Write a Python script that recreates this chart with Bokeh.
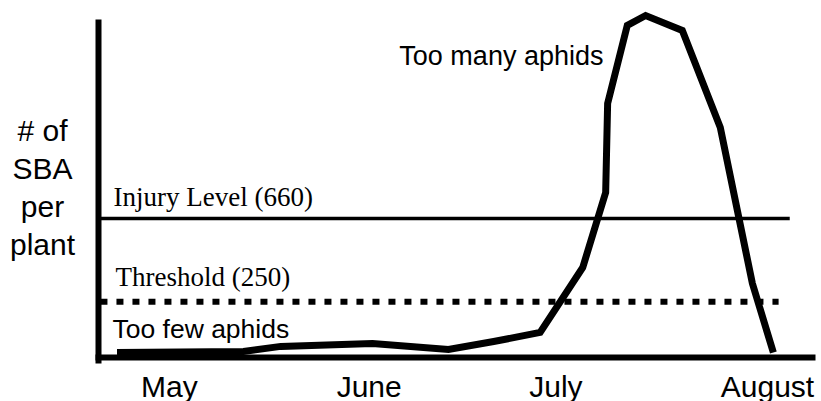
from bokeh.plotting import figure
from bokeh.models import Range1d, LinearAxis, FixedTicker, Label
from bokeh.embed import file_html
from bokeh.resources import INLINE

# ---- data (x = day of season, y = soybean aphids per plant) ----
days = [7, 26.3, 32, 46, 57.6, 64.5, 71.6, 78.1, 81.6, 81.9, 84.9, 87.7, 93.3, 99.1, 104, 107.2]
sba = [0, 5, 30, 44, 15, 54, 99, 419, 788, 1227, 1611, 1660, 1586, 1108, 340, 0]

months = ["May", "June", "July", "August"]
month_days = [15, 45.5, 74, 106.3]

injury_level = 660
threshold = 250
level_start_day = 4.47
injury_end_day = 109.7
threshold_end_day = 108.0

ylabel_lines = ["# of", "SBA", "per", "plant"]

SANS = "Liberation Sans"
SERIF = "Liberation Serif"

p = figure(width=821, height=401, output_backend="svg", toolbar_location=None,
           x_axis_type=None, y_axis_type=None,
           x_range=Range1d(-10.79, 114.55), y_range=Range1d(-241.4, 1734.0),
           min_border=0)
p.outline_line_color = None
p.background_fill_color = "white"
p.border_fill_color = "white"

xaxis = LinearAxis(ticker=FixedTicker(ticks=[]), axis_line_width=6, axis_line_color="black",
                   major_tick_line_color=None, minor_tick_line_color=None,
                   major_label_text_font_size="0px", fixed_location=-24.6, bounds=(3.71, 113.6))
p.add_layout(xaxis, "below")
yaxis = LinearAxis(ticker=FixedTicker(ticks=[]), axis_line_width=6, axis_line_color="black",
                   major_tick_line_color=None, minor_tick_line_color=None,
                   major_label_text_font_size="0px", fixed_location=4.17, bounds=(-54.2, 1640))
p.add_layout(yaxis, "left")

# reference levels
p.segment(x0=[level_start_day], y0=[injury_level], x1=[injury_end_day], y1=[injury_level],
          line_color="black", line_width=3.5)
p.segment(x0=[level_start_day], y0=[threshold], x1=[threshold_end_day], y1=[threshold],
          line_color="black", line_width=6, line_dash="7 9")

# aphid curve
p.line(days, sba, line_color="black", line_width=7, line_join="miter")

# texts
def lab(x, y, text, font, size, align="left"):
    p.add_layout(Label(x=x, y=y, text=text, text_font=font, text_font_size=size,
                       text_color="black", text_align=align, text_baseline="alphabetic"))

lab(6.46, 768, f"Injury Level ({injury_level})", SERIF, "27px")
lab(6.76, 374, f"Threshold ({threshold})", SERIF, "27px")
lab(6.3, 118, "Too few aphids", SANS, "26.5px")
lab(50.1, 1463, "Too many aphids", SANS, "27px")

for name, d in zip(months, month_days):
    lab(d, -167, name, SANS, "30px", "center")

for i, line in enumerate(ylabel_lines):
    lab(-4.38, 1094 - i * 187.2, line, SANS, "30px", "center")

open("out.html", "w").write(file_html(p, INLINE))
